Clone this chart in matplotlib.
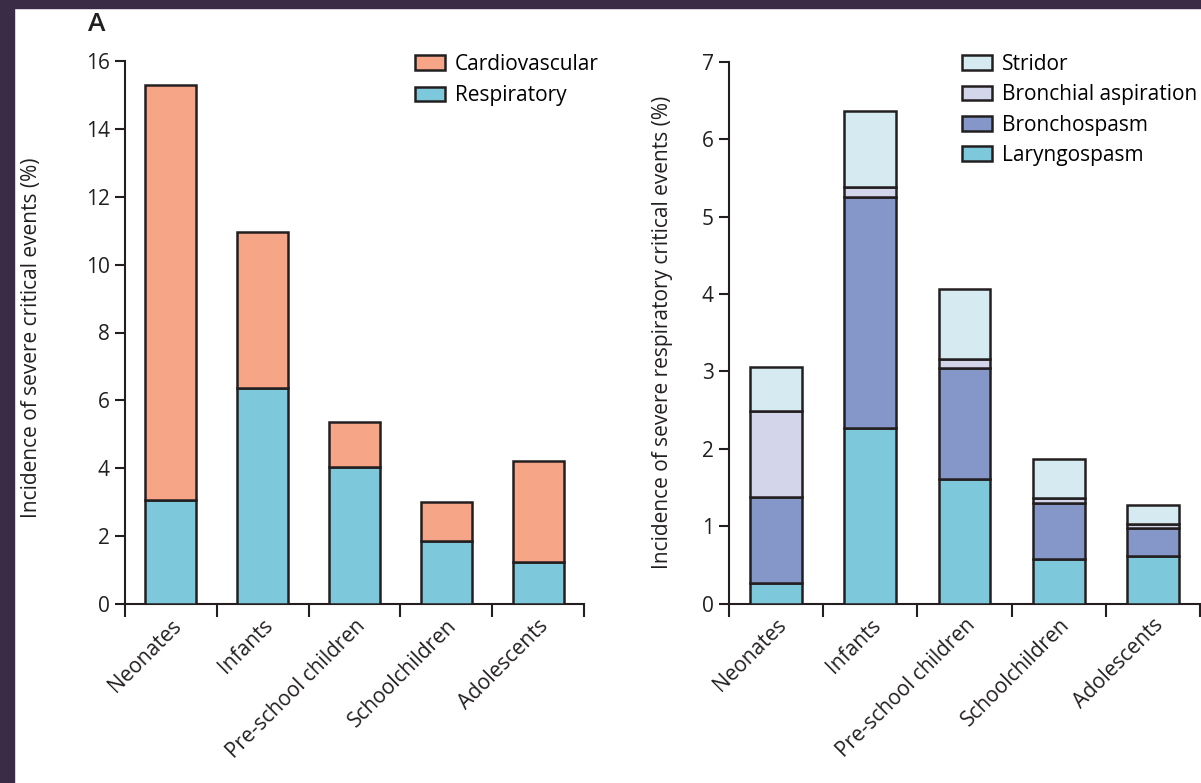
import numpy as np
import matplotlib
matplotlib.use('Agg')
import matplotlib.pyplot as plt
from matplotlib.patches import Rectangle

plt.rcParams['font.family'] = ['Open Sans', 'DejaVu Sans']
plt.rcParams['font.size'] = 15

# Données
groupes = ['Neonates', 'Infants', 'Pre-school children', 'Schoolchildren', 'Adolescents']

# Panneau gauche : incidence (%)
respiratoire = [3.05, 6.35, 4.05, 1.85, 1.25]
cardiovasculaire = [12.25, 4.6, 1.3, 1.15, 2.95]

# Panneau droit : incidence respiratoire (%)
laryngospasme = [0.27, 2.27, 1.61, 0.58, 0.62]
bronchospasme = [1.11, 2.99, 1.44, 0.72, 0.35]
aspiration = [1.11, 0.12, 0.11, 0.07, 0.06]
stridor = [0.57, 0.99, 0.91, 0.50, 0.24]

ink = '#231f20'
c_cardio = '#f6a586'
c_resp = '#7ec8dc'
c_broncho = '#8597c8'
c_aspi = '#d3d6ea'
c_stridor = '#d6eaf1'
fond = '#3a2b47'

fig = plt.figure(figsize=(12.01, 7.83), dpi=100)
W, H = 1201, 783

# Cadre sombre (haut et gauche)
fig.add_artist(Rectangle((0, 1 - 8 / H), 1, 8 / H, transform=fig.transFigure, color=fond, zorder=0))
fig.add_artist(Rectangle((0, 0), 14 / W, 1, transform=fig.transFigure, color=fond, zorder=0))

ax1 = fig.add_axes([125 / W, 1 - 604 / H, 459 / W, 543 / H])
ax2 = fig.add_axes([729 / W, 1 - 603.5 / H, 471 / W, 541.5 / H])

x = np.arange(len(groupes))
lw = 1.8


def empile(ax, series, couleurs, noms, largeur):
    bas = np.zeros(len(groupes))
    handles = []
    for vals, col, nom in zip(series, couleurs, noms):
        b = ax.bar(x, vals, largeur, bottom=bas, color=col, edgecolor=ink,
                   linewidth=lw, label=nom, zorder=3)
        handles.append(b)
        bas = bas + np.array(vals)
    return handles


def style(ax, ymax, ystep, ylabel, xlab):
    ax.set_xlim(-0.5, len(groupes) - 0.5)
    ax.set_ylim(0, ymax)
    ax.set_yticks(np.arange(0, ymax + 0.01, ystep))
    ax.spines['top'].set_visible(False)
    ax.spines['right'].set_visible(False)
    ax.spines['left'].set_bounds(0, ymax)
    for s in ['left', 'bottom']:
        ax.spines[s].set_linewidth(1.5)
        ax.spines[s].set_color(ink)
    ax.set_xticks(np.arange(-0.5, len(groupes)), [''] * (len(groupes) + 1))
    ax.set_xticks(x, groupes, minor=True)
    ax.tick_params(axis='x', which='major', length=9, width=1.5, color=ink, direction='out')
    ax.tick_params(axis='x', which='minor', length=0, pad=8, labelcolor=ink)
    ax.tick_params(axis='y', length=7, width=1.5, color=ink, labelcolor=ink, pad=4)
    for t in ax.get_xticklabels(minor=True):
        t.set_rotation(45)
        t.set_ha('right')
        t.set_va('top')
        t.set_rotation_mode('anchor')
    ax.set_ylabel(ylabel, color=ink)
    ax.yaxis.set_label_coords(xlab, 0.5)


h1 = empile(ax1, [respiratoire, cardiovasculaire], [c_resp, c_cardio],
            ['Respiratory', 'Cardiovascular'], 0.556)
style(ax1, 16, 2, 'Incidence of severe critical events (%)', -0.18)
ax1.yaxis.label.set_y(0.49)
ax1.legend(handles=h1[::-1], loc='upper left', bbox_to_anchor=(0.632, 1.013),
           frameon=False, borderpad=0, borderaxespad=0, handlelength=1.43,
           handleheight=0.7, handletextpad=0.48, labelspacing=0.5)

h2 = empile(ax2, [laryngospasme, bronchospasme, aspiration, stridor],
            [c_resp, c_broncho, c_aspi, c_stridor],
            ['Laryngospasm', 'Bronchospasm', 'Bronchial aspiration', 'Stridor'], 0.55)
style(ax2, 7, 1, 'Incidence of severe respiratory critical events (%)', -0.118)
ax2.legend(handles=h2[::-1], loc='upper left', bbox_to_anchor=(0.4947, 1.015),
           frameon=False, borderpad=0, borderaxespad=0, handlelength=1.43,
           handleheight=0.7, handletextpad=0.48, labelspacing=0.45)

fig.text(88 / W, 1 - 31 / H, 'A', fontsize=19, color=ink, fontweight='semibold')

fig.savefig('out.png', dpi=100)
